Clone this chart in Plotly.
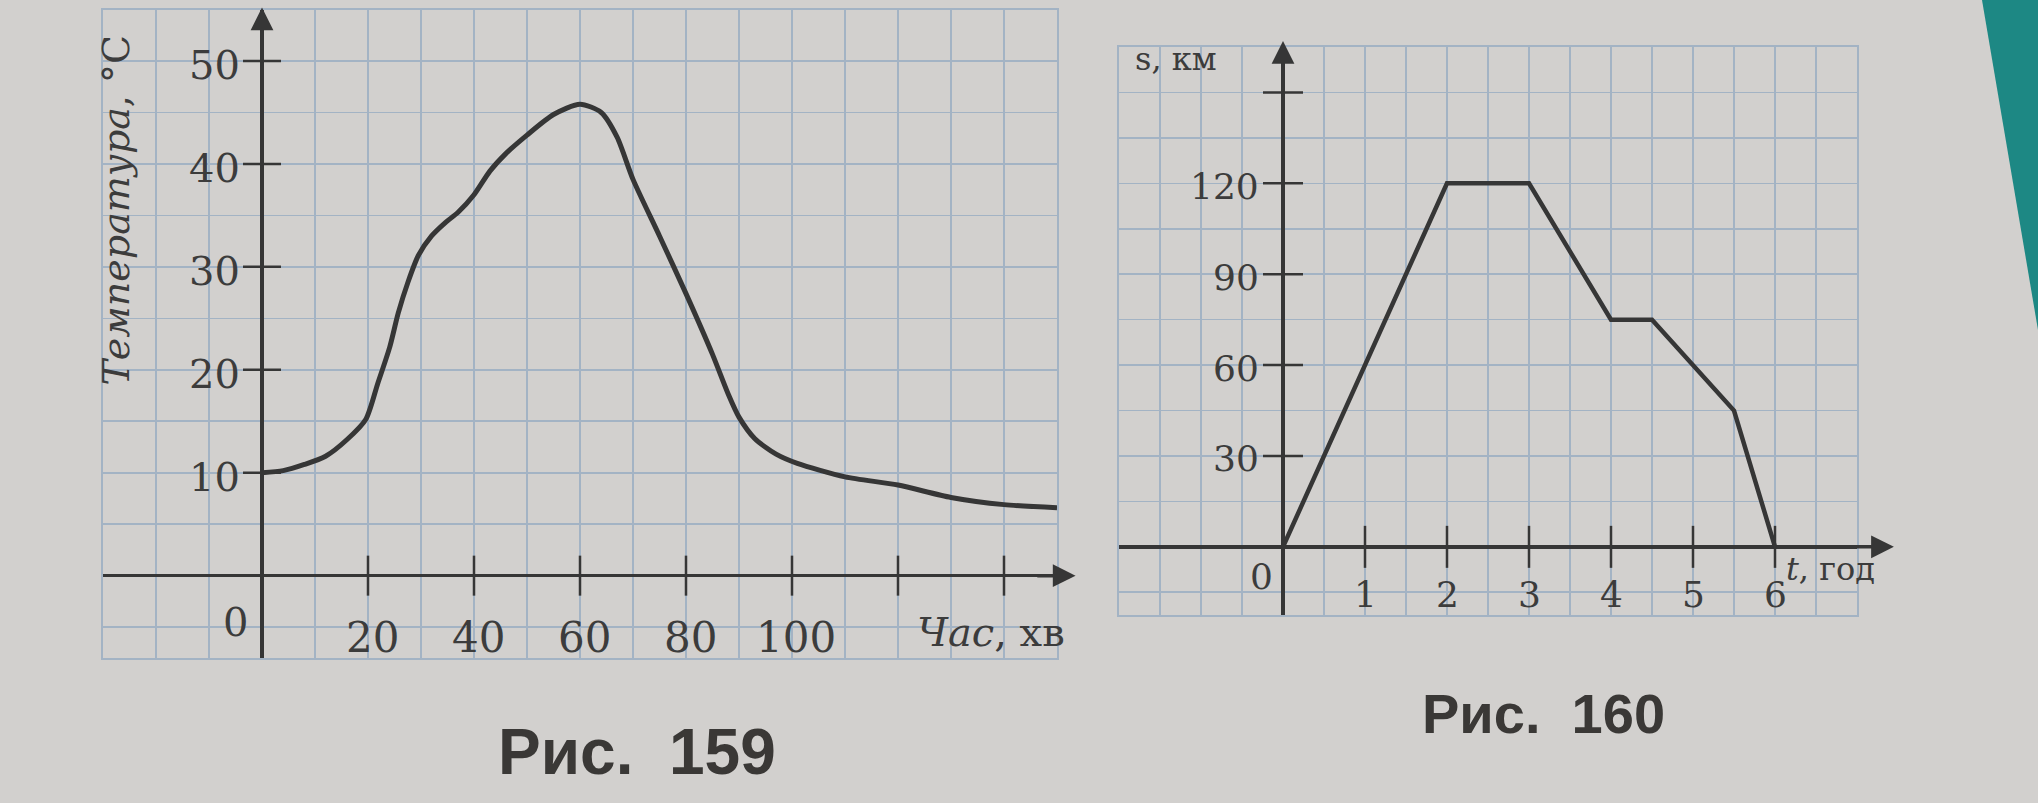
import plotly.graph_objects as go

# ---------------- data ----------------
# Рис. 159: temperature (°C) vs time (min)
time_min = [0, 4, 8, 12, 16, 19.6, 21.8, 24.1, 25.7, 27.6, 29.5, 32, 34.6, 37, 40,
            43, 46, 50, 55, 60, 64, 67, 70, 75, 80, 85, 88, 90, 93, 97,
            101, 110, 120, 130, 140, 150]
temp_c = [10, 10.2, 10.8, 11.6, 13.2, 15.2, 18.6, 22.2, 25.5, 28.6, 31.1, 33, 34.3, 35.3, 37,
          39.3, 41, 42.8, 44.8, 45.8, 45.0, 42.6, 38.5, 33, 27.4, 21.5, 17.6, 15.4, 13.3, 11.8,
          10.9, 9.6, 8.8, 7.6, 6.9, 6.6]
temp_ticks = [10, 20, 30, 40, 50]
time_ticks = [20, 40, 60, 80, 100, 120, 140]
time_labels = ["20", "40", "60", "80", "100"]

# Рис. 160: distance s (km) vs time t (h)
t_hours = [0, 2, 3, 4, 4.5, 5.5, 6]
s_km = [0, 120, 120, 75, 75, 45, 0]
s_ticks = [30, 60, 90, 120, 150]
s_labels = ["30", "60", "90", "120"]
t_ticks = [1, 2, 3, 4, 5, 6]

# ---------------- styling ----------------
W, H = 2038, 803
BG = "#d2d0ce"
GRID = "#a3b3c4"
INK = "#363636"
TXT = "#3c3c3c"
SERIF = "DejaVu Serif"


def dx(p):
    return p / W


def dy(p):
    return 1 - p / H


fig = go.Figure()

fig.add_trace(go.Scatter(x=time_min, y=temp_c, mode="lines",
                         line=dict(color=INK, width=5, shape="spline", smoothing=0.7),
                         xaxis="x", yaxis="y", hoverinfo="skip", showlegend=False))
fig.add_trace(go.Scatter(x=t_hours, y=s_km, mode="lines",
                         line=dict(color=INK, width=4.5),
                         xaxis="x2", yaxis="y2", hoverinfo="skip", showlegend=False))

axis_common = dict(showgrid=True, gridcolor=GRID, gridwidth=1.6,
                   zeroline=True, zerolinecolor=INK, zerolinewidth=3.5,
                   showline=True, mirror=True, linecolor=GRID, linewidth=1.6,
                   showticklabels=False, ticks="", fixedrange=True)

fig.update_layout(
    width=W, height=H, margin=dict(l=0, r=0, t=0, b=0),
    paper_bgcolor=BG, plot_bgcolor=BG, showlegend=False,
    xaxis=dict(domain=[dx(103), dx(1057)], range=[-30, 150], dtick=10, tick0=0,
               anchor="y", **axis_common),
    yaxis=dict(domain=[dy(658), dy(9.5)], range=[-8, 55], dtick=5, tick0=0,
               anchor="x", **axis_common),
    xaxis2=dict(domain=[dx(1119), dx(1857)], range=[-2, 7], dtick=0.5, tick0=0,
                anchor="y2", **axis_common),
    yaxis2=dict(domain=[dy(615), dy(47)], range=[-22.5, 165], dtick=15, tick0=0,
                anchor="x2", **axis_common),
)

shapes = []
annots = []

# teal strip of the photo at top right
shapes.append(dict(type="path", xref="paper", yref="paper",
                   path=f"M {dx(1982)},1 L 1,1 L 1,{dy(330)} Z",
                   fillcolor="#1d8884", line=dict(width=0), layer="below"))

# ---- left chart ticks ----
for v in temp_ticks:
    shapes.append(dict(type="line", xref="x", yref="y", xsizemode="pixel", xanchor=0,
                       x0=-19, x1=19, y0=v, y1=v, line=dict(color=INK, width=2.5)))
    annots.append(dict(x=0, y=v, xref="x", yref="y", text=str(v), showarrow=False,
                       xanchor="right", yanchor="middle", xshift=-20, yshift=-4,
                       font=dict(family=SERIF, size=40, color=TXT)))
for v in time_ticks:
    shapes.append(dict(type="line", xref="x", yref="y", ysizemode="pixel", yanchor=0,
                       y0=-20, y1=20, x0=v, x1=v, line=dict(color=INK, width=2.5)))
for v, lab in zip(time_ticks, time_labels):
    annots.append(dict(x=v, y=0, xref="x", yref="y", text=lab, showarrow=False,
                       xanchor="center", yanchor="middle", xshift=4, yshift=-62,
                       font=dict(family=SERIF, size=42, color=TXT)))
annots.append(dict(x=0, y=0, xref="x", yref="y", text="0", showarrow=False,
                   xanchor="right", yanchor="middle", xshift=-12, yshift=-46,
                   font=dict(family=SERIF, size=40, color=TXT)))
annots.append(dict(x=137.5, y=0, xref="x", yref="y", text="<i>Час</i>, хв", showarrow=False,
                   xanchor="center", yanchor="middle", yshift=-56,
                   font=dict(family=SERIF, size=40, color=TXT)))
annots.append(dict(x=-27.5, y=35.5, xref="x", yref="y", text="<i>Температура</i>, °С",
                   showarrow=False, textangle=-90, xanchor="center", yanchor="middle",
                   font=dict(family=SERIF, size=38, color=TXT)))
# axis arrows (left)
annots.append(dict(x=153.5, y=0, ax=146, ay=0, xref="x", yref="y", axref="x", ayref="y",
                   text="", showarrow=True, arrowhead=2, arrowsize=1.3, arrowwidth=3.5,
                   arrowcolor=INK))
annots.append(dict(x=0, y=55.2, ax=0, ay=51, xref="x", yref="y", axref="x", ayref="y",
                   text="", showarrow=True, arrowhead=2, arrowsize=1.3, arrowwidth=3.5,
                   arrowcolor=INK))

# ---- right chart ticks ----
for v in s_ticks:
    shapes.append(dict(type="line", xref="x2", yref="y2", xsizemode="pixel", xanchor=0,
                       x0=-20, x1=20, y0=v, y1=v, line=dict(color=INK, width=2.5)))
for v, lab in zip(s_ticks, s_labels):
    annots.append(dict(x=0, y=int(lab), xref="x2", yref="y2", text=lab, showarrow=False,
                       xanchor="right", yanchor="middle", xshift=-22, yshift=-3,
                       font=dict(family=SERIF, size=36, color=TXT)))
for v in t_ticks:
    shapes.append(dict(type="line", xref="x2", yref="y2", ysizemode="pixel", yanchor=0,
                       y0=-21, y1=21, x0=v, x1=v, line=dict(color=INK, width=2.5)))
    annots.append(dict(x=v, y=0, xref="x2", yref="y2", text=str(v), showarrow=False,
                       xanchor="center", yanchor="middle", yshift=-48,
                       font=dict(family=SERIF, size=36, color=TXT)))
annots.append(dict(x=0, y=0, xref="x2", yref="y2", text="0", showarrow=False,
                   xanchor="right", yanchor="middle", xshift=-8, yshift=-30,
                   font=dict(family=SERIF, size=36, color=TXT)))
annots.append(dict(x=6.68, y=0, xref="x2", yref="y2", text="<i>t</i>, год", showarrow=False,
                   xanchor="center", yanchor="middle", yshift=-22,
                   font=dict(family=SERIF, size=32, color=TXT)))
annots.append(dict(x=-1.3, y=161, xref="x2", yref="y2", text="s, км", showarrow=False,
                   xanchor="center", yanchor="middle",
                   font=dict(family=SERIF, size=32, color=TXT)))
annots.append(dict(x=7.45, y=0, ax=6.9, ay=0, xref="x2", yref="y2", axref="x2", ayref="y2",
                   text="", showarrow=True, arrowhead=2, arrowsize=1.3, arrowwidth=3.5,
                   arrowcolor=INK))
annots.append(dict(x=0, y=167, ax=0, ay=150, xref="x2", yref="y2", axref="x2", ayref="y2",
                   text="", showarrow=True, arrowhead=2, arrowsize=1.3, arrowwidth=3.5,
                   arrowcolor=INK))

# ---- captions ----
annots.append(dict(x=dx(637), y=dy(752), xref="paper", yref="paper",
                   text="<b>Рис.\u00a0 159</b>", showarrow=False,
                   xanchor="center", yanchor="middle",
                   font=dict(family="Liberation Sans", size=64, color="#3a3836")))
annots.append(dict(x=dx(1543), y=dy(713), xref="paper", yref="paper",
                   text="<b>Рис.\u00a0 160</b>", showarrow=False,
                   xanchor="center", yanchor="middle",
                   font=dict(family="Liberation Sans", size=56, color="#3a3836")))

fig.update_layout(shapes=shapes, annotations=annots)

fig.write_html("out.html", include_plotlyjs=True, config={"staticPlot": True},
               post_script="document.body.style.margin='0';document.body.style.overflow='hidden';")
